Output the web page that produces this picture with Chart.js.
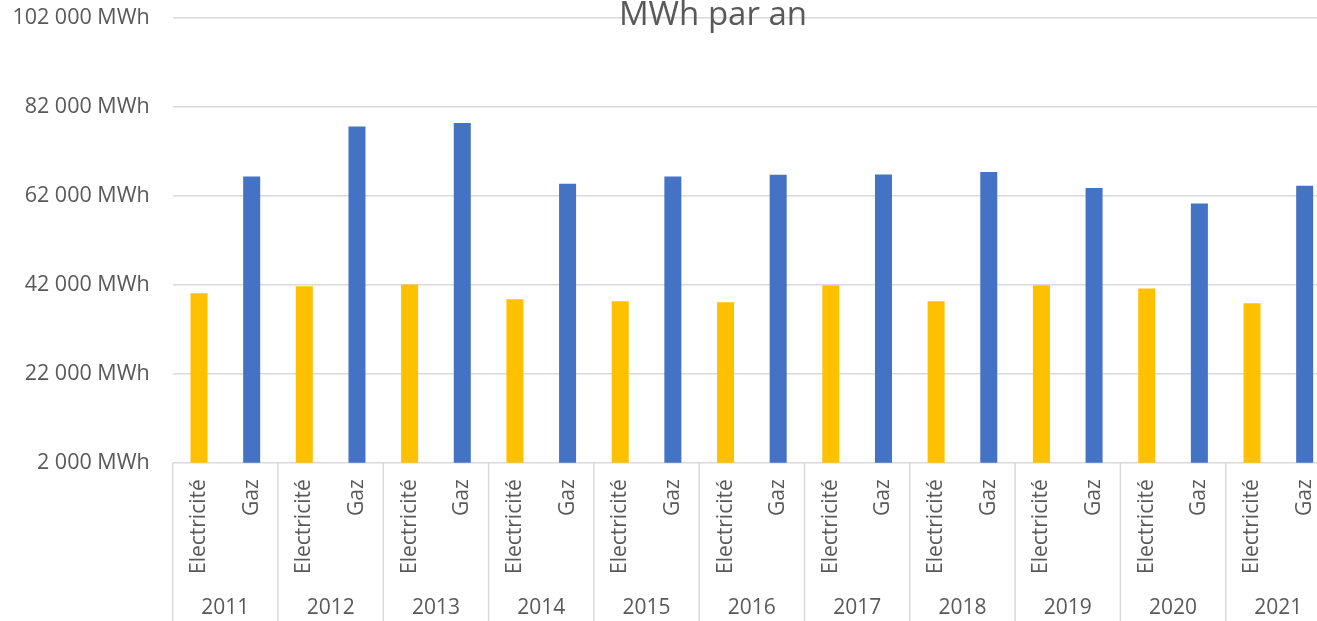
<!DOCTYPE html>
<html>
<head>
<meta charset="utf-8">
<script src="https://cdn.jsdelivr.net/npm/chart.js@4.4.0/dist/chart.umd.min.js"></script>
<style>
  html, body { margin: 0; padding: 0; overflow: hidden; background: #ffffff; }
  #wrap { width: 1317px; height: 621px; overflow: hidden; position: relative; }
  canvas { display: block; }
</style>
</head>
<body>
<div id="wrap"><canvas id="c" width="1333" height="621"></canvas></div>
<script>
const title = 'MWh par an';
const years = ['2011','2012','2013','2014','2015','2016','2017','2018','2019','2020','2021'];
const types = ['Electricité', 'Gaz'];
const electricite = [40100, 41700, 42100, 38750, 38300, 38100, 41900, 38300, 41900, 41200, 37850];
const gaz = [66350, 77600, 78400, 64700, 66350, 66750, 66800, 67350, 63750, 60300, 64300];
const yMin = 2000, yMax = 102000, yStep = 20000;
const colors = ['#FFC000', '#4472C4'];

const FONT = "'Open Sans', 'Noto Sans', sans-serif";
const TEXT = '#595959';
const GRID = '#d9d9d9';

const labels = [], values = [], barColors = [];
years.forEach((y, i) => {
  labels.push(y + ' ' + types[0]); values.push(electricite[i]); barColors.push(colors[0]);
  labels.push(y + ' ' + types[1]); values.push(gaz[i]); barColors.push(colors[1]);
});

function fmt(v) {
  return String(v).replace(/\B(?=(\d{3})+(?!\d))/g, ' ') + ' MWh';
}

const multiAxis = {
  id: 'multiAxis',
  afterDraw(chart) {
    const ctx = chart.ctx;
    const xs = chart.scales.x;
    const area = chart.chartArea;
    const H = chart.height;
    ctx.save();
    // separators
    const step = xs.getPixelForValue(1) - xs.getPixelForValue(0);
    ctx.strokeStyle = GRID;
    ctx.lineWidth = 1.5;
    for (let g = 0; g <= years.length; g++) {
      const x = area.left + g * step * 2;
      ctx.beginPath();
      ctx.moveTo(x, area.bottom);
      ctx.lineTo(x, H);
      ctx.stroke();
    }
    // sub labels
    ctx.fillStyle = TEXT;
    ctx.font = '21px ' + FONT;
    for (let i = 0; i < labels.length; i++) {
      const x = xs.getPixelForValue(i);
      ctx.save();
      ctx.translate(x, area.bottom + 16.5);
      ctx.rotate(-Math.PI / 2);
      ctx.textAlign = 'right';
      ctx.textBaseline = 'middle';
      ctx.fillText(types[i % 2], 0, 0);
      ctx.restore();
    }
    // year labels
    ctx.font = '21px ' + FONT;
    ctx.textAlign = 'center';
    ctx.textBaseline = 'middle';
    years.forEach((y, g) => {
      const x = (xs.getPixelForValue(2 * g) + xs.getPixelForValue(2 * g + 1)) / 2;
      ctx.fillText(y, x, 608);
    });
    // title
    ctx.font = '33px ' + FONT;
    ctx.textAlign = 'center';
    ctx.textBaseline = 'alphabetic';
    ctx.fillText(title, 713, 25);
    ctx.restore();
  }
};

new Chart(document.getElementById('c'), {
  type: 'bar',
  data: {
    labels: labels,
    datasets: [{
      data: values,
      backgroundColor: barColors,
      borderWidth: 0,
      barPercentage: 0.323,
      categoryPercentage: 1.0
    }]
  },
  options: {
    responsive: false,
    animation: false,
    events: [],
    layout: { padding: { top: 18, right: 2, left: 0, bottom: 0 } },
    plugins: {
      legend: { display: false },
      tooltip: { enabled: false },
      title: { display: false }
    },
    scales: {
      x: {
        grid: { display: false },
        border: { display: false },
        ticks: { display: false },
        afterFit(scale) { scale.height = 621 - 462.7; }
      },
      y: {
        min: yMin,
        max: yMax,
        grid: { color: GRID, lineWidth: 1.5, drawTicks: false },
        border: { display: false },
        ticks: {
          stepSize: yStep,
          padding: 23,
          color: TEXT,
          font: { family: FONT, size: 21.5 },
          callback: (v) => fmt(v)
        },
        afterFit(scale) {
          scale.width = 172.7;
          scale.paddingTop = 0;
          scale.paddingBottom = 0;
        }
      }
    }
  },
  plugins: [multiAxis]
});
</script>
</body>
</html>
